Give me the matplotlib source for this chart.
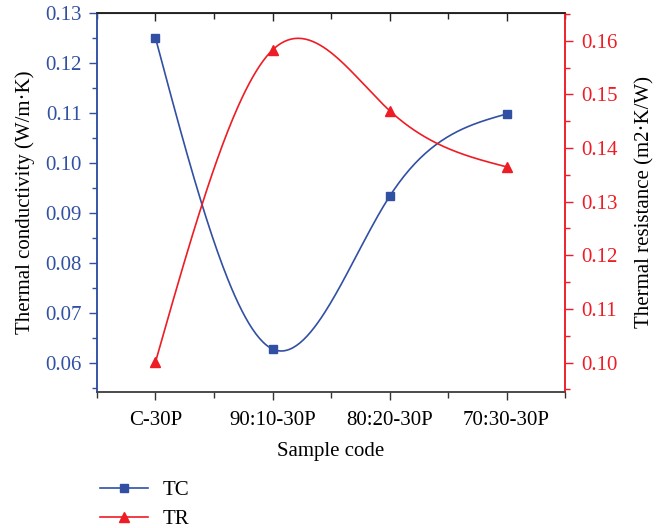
import numpy as np
import matplotlib.pyplot as plt
from matplotlib.ticker import MultipleLocator, FixedLocator
from matplotlib.lines import Line2D

plt.rcParams['font.family'] = ['Liberation Serif', 'DejaVu Serif']

# sample codes and measured values
samples = ["C-30P", "90:10-30P", "80:20-30P", "70:30-30P"]
tc = [0.125, 0.0628, 0.0933, 0.1098]   # thermal conductivity, W/m.K
tr = [0.1001, 0.1583, 0.1470, 0.1365]  # thermal resistance, m2.K/W

BLUE = "#3150a3"
RED = "#ee1c24"
FS = 15


def natural_spline(x, y, n=200):
    # natural cubic spline through the points, for the smooth connecting line
    x = np.asarray(x, float)
    y = np.asarray(y, float)
    k = len(x)
    h = np.diff(x)
    A = np.zeros((k, k))
    b = np.zeros(k)
    A[0, 0] = A[-1, -1] = 1.0
    for i in range(1, k - 1):
        A[i, i - 1] = h[i - 1]
        A[i, i] = 2 * (h[i - 1] + h[i])
        A[i, i + 1] = h[i]
        b[i] = 6 * ((y[i + 1] - y[i]) / h[i] - (y[i] - y[i - 1]) / h[i - 1])
    M = np.linalg.solve(A, b)
    xs = np.linspace(x[0], x[-1], n)
    idx = np.clip(np.searchsorted(x, xs) - 1, 0, k - 2)
    x0, x1 = x[idx], x[idx + 1]
    hh = x1 - x0
    t0, t1 = x1 - xs, xs - x0
    ys = (M[idx] * t0**3 + M[idx + 1] * t1**3) / (6 * hh) \
        + (y[idx] / hh - M[idx] * hh / 6) * t0 \
        + (y[idx + 1] / hh - M[idx + 1] * hh / 6) * t1
    return xs, ys


pos = np.arange(1, len(samples) + 1)

fig = plt.figure(figsize=(6.63, 5.28), dpi=100)
ax = fig.add_axes([0.1463, 0.2576, 0.7059, 0.7178])
ax2 = ax.twinx()

xs, ys = natural_spline(pos, tc)
ax.plot(xs, ys, color=BLUE, lw=1.2)
ax.plot(pos, tc, ls="none", marker="s", ms=5.5, color=BLUE)

xs, ys = natural_spline(pos, tr)
ax2.plot(xs, ys, color=RED, lw=1.2)
ax2.plot(pos, tr, ls="none", marker="^", ms=7, color=RED)

ax.set_xlim(0.5, 4.5)
ax.set_ylim(0.0542, 0.13)
ax2.set_ylim(0.0945, 0.1652)

ax.set_xticks(pos)
ax.set_xticklabels(samples, fontsize=FS)
ax.xaxis.set_minor_locator(FixedLocator([0.5, 1.5, 2.5, 3.5, 4.5]))
ax.yaxis.set_major_locator(MultipleLocator(0.01))
ax.yaxis.set_minor_locator(MultipleLocator(0.005))
ax2.yaxis.set_major_locator(MultipleLocator(0.01))
ax2.yaxis.set_minor_locator(MultipleLocator(0.005))
ax.yaxis.set_major_formatter(plt.FormatStrFormatter("%.2f"))
ax2.yaxis.set_major_formatter(plt.FormatStrFormatter("%.2f"))

ax.tick_params(axis="x", which="major", direction="out", length=6, width=1, color="#333333", pad=8)
ax.tick_params(axis="x", which="minor", direction="out", length=4, width=1, color="#333333")
ax.tick_params(axis="y", which="major", direction="out", length=6, width=1, color=BLUE,
               labelcolor=BLUE, labelsize=FS, pad=5)
ax.tick_params(axis="y", which="minor", direction="out", length=3.5, width=1, color=BLUE)
ax2.tick_params(axis="y", which="major", direction="out", length=6, width=1, color=RED,
                labelcolor=RED, labelsize=FS, pad=6)
ax2.tick_params(axis="y", which="minor", direction="out", length=3.5, width=1, color=RED)

for a in (ax, ax2):
    a.spines["top"].set_color("#222222")
    a.spines["bottom"].set_color("#444444")
    a.spines["left"].set_color(BLUE)
    a.spines["right"].set_color(RED)
    for s in a.spines.values():
        s.set_linewidth(1.1)

# mirrored ticks along the top edge
top = ax.secondary_xaxis("top")
top.set_xticks(pos)
top.xaxis.set_minor_locator(FixedLocator([0.5, 1.5, 2.5, 3.5, 4.5]))
top.tick_params(axis="x", which="major", direction="in", length=6, width=1,
                color="#222222", labeltop=False)
top.tick_params(axis="x", which="minor", direction="in", length=4, width=1, color="#222222")
top.spines["top"].set_color("#222222")

ax.set_xlabel("Sample code", fontsize=FS, labelpad=8)
ax.set_ylabel("Thermal conductivity (W/m·K)", fontsize=FS, labelpad=7)
ax2.set_ylabel("Thermal resistance (m2·K/W)", fontsize=FS, labelpad=12)

handles = [Line2D([], [], color=BLUE, lw=1.2, marker="s", ms=5.5),
           Line2D([], [], color=RED, lw=1.2, marker="^", ms=7)]
fig.legend(handles, ["TC", "TR"], loc="upper left", bbox_to_anchor=(0.138, 0.105),
           frameon=False, fontsize=FS, handlelength=2.3, handletextpad=0.7,
           labelspacing=0.45, borderaxespad=0)

fig.savefig("out.png", dpi=100)
